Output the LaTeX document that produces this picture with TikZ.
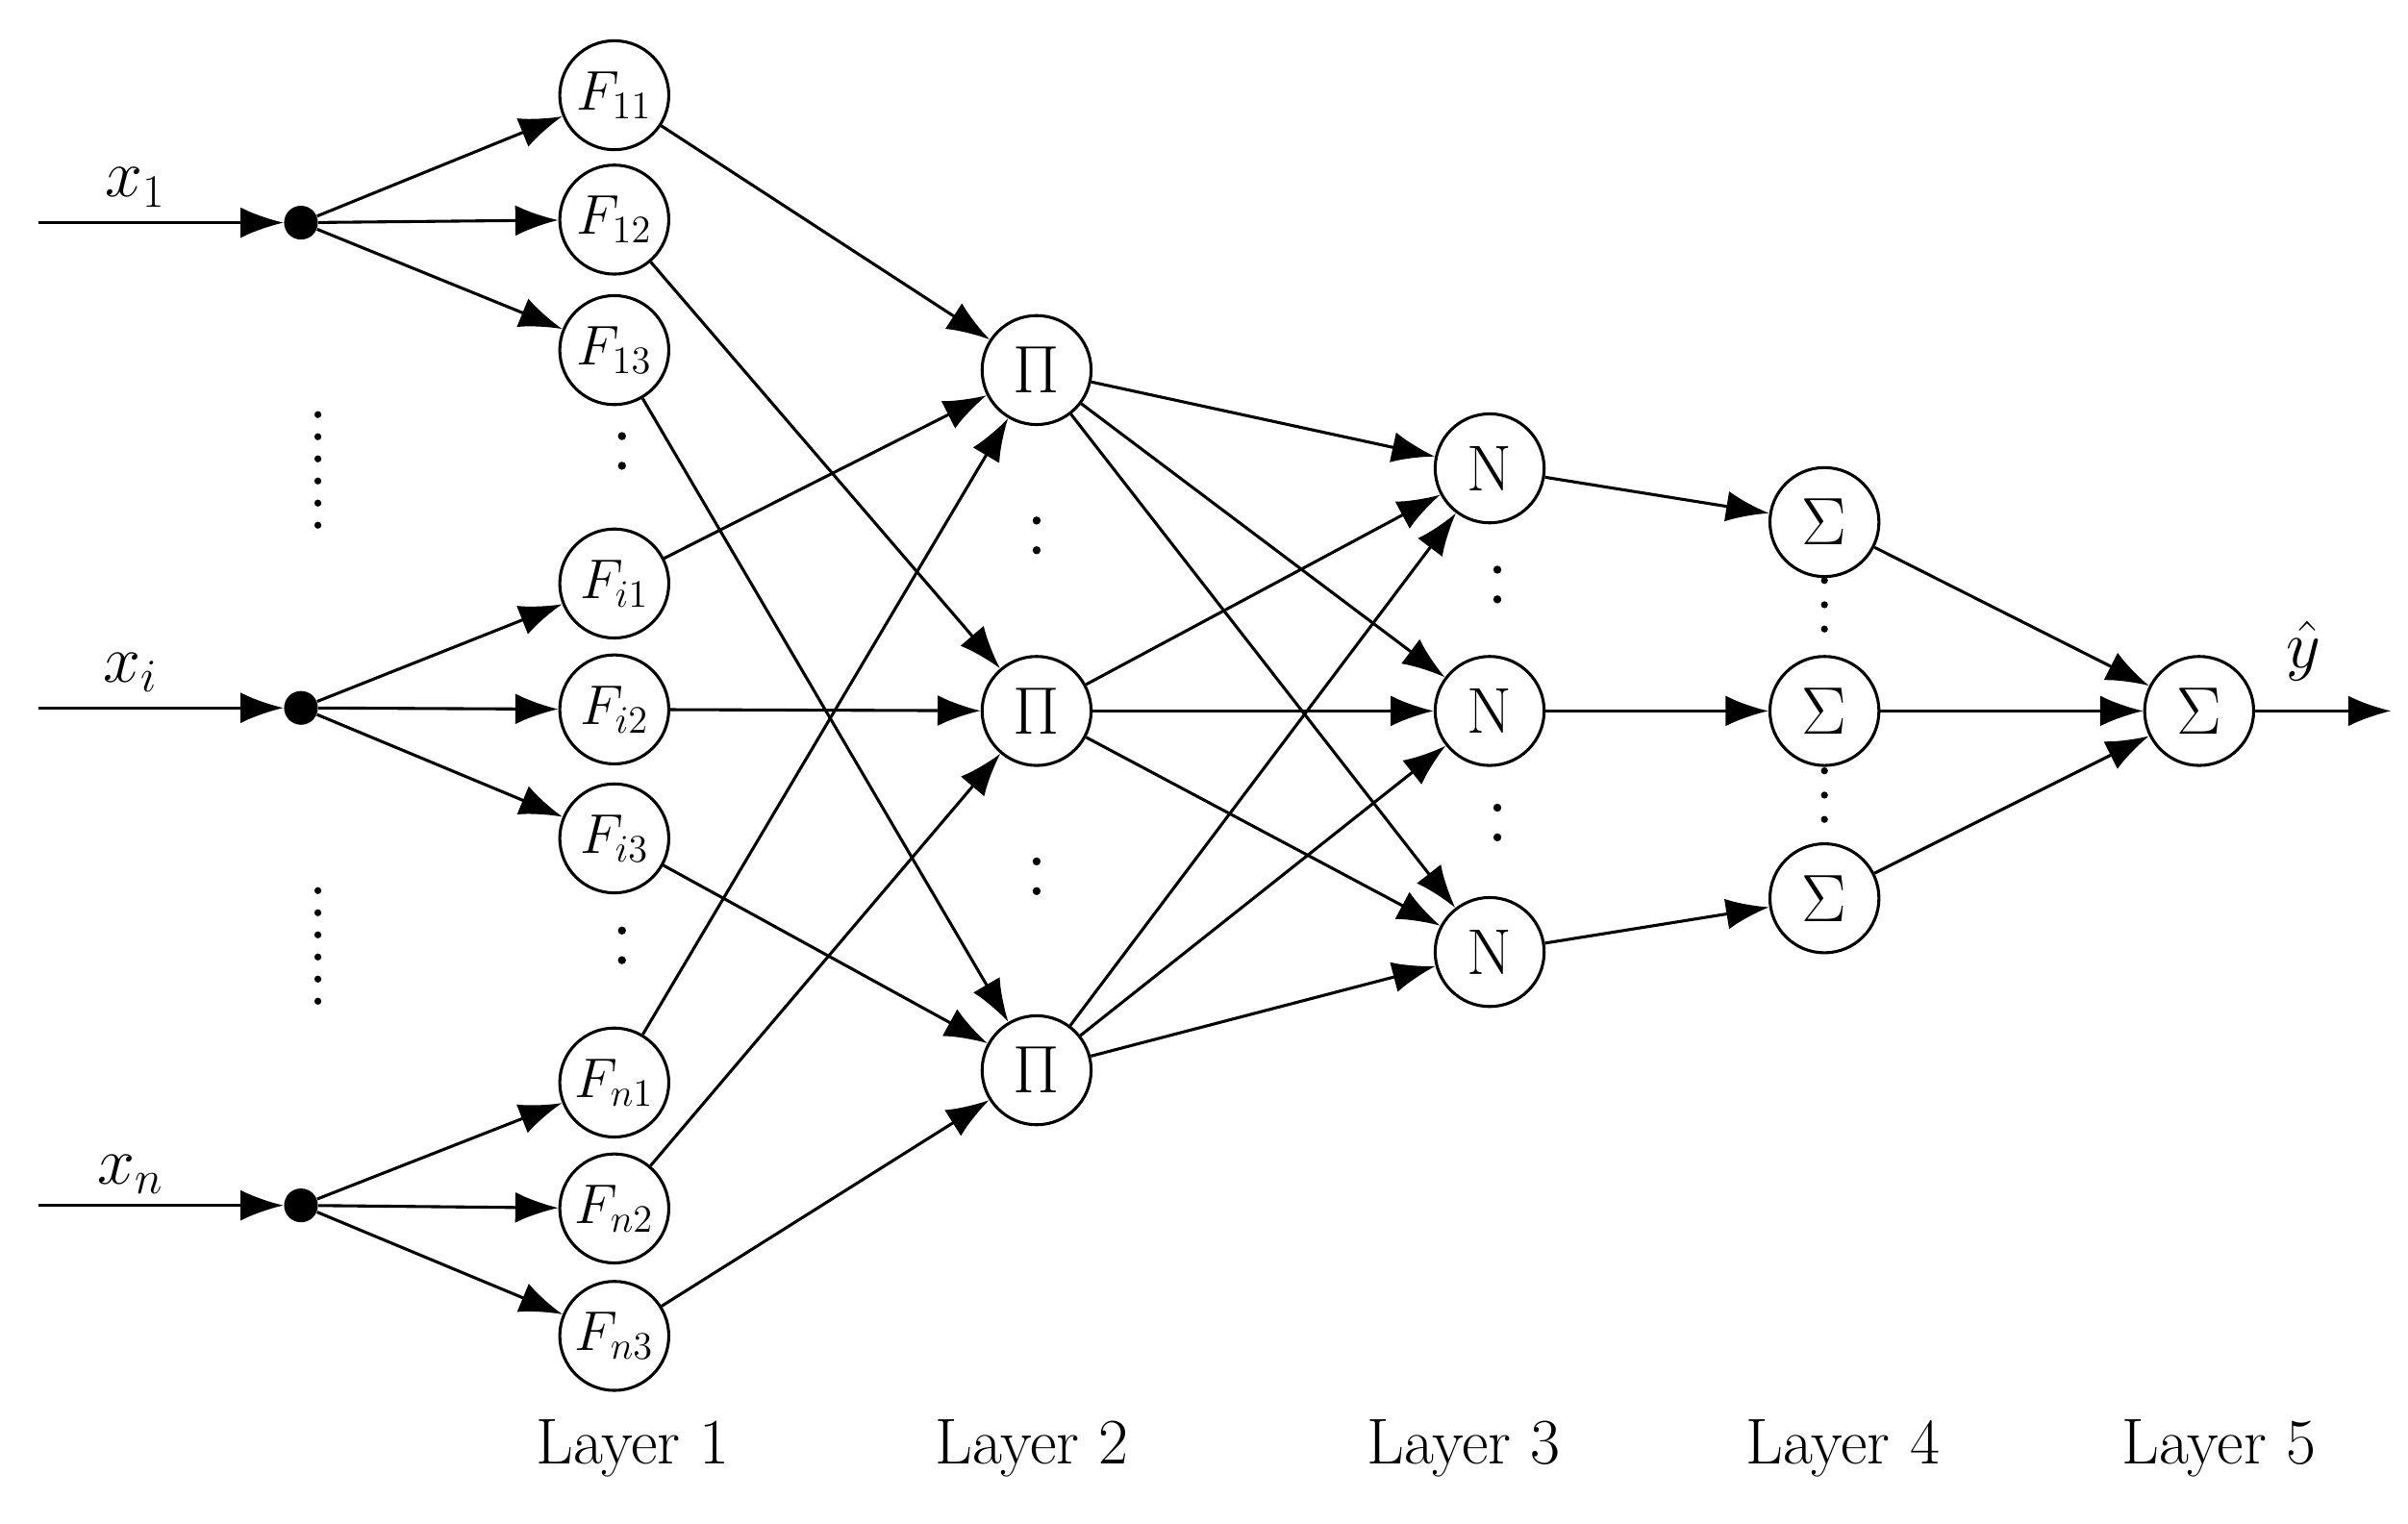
\documentclass[tikz,border=0pt]{standalone}
\usetikzlibrary{arrows.meta}
\begin{document}
\begin{tikzpicture}[x=0.02cm,y=-0.02cm,
  neu/.style={circle,draw,line width=1.1pt,minimum size=1.42cm,inner sep=0pt,font=\fontsize{24}{28}\selectfont},
  fneu/.style={neu,font=\fontsize{21}{24}\selectfont},
  dot/.style={circle,fill,inner sep=0pt,minimum size=0.44cm},
  arr/.style={line width=1.1pt,-{Latex[length=0.56cm,width=0.4cm]}},
  lbl/.style={font=\fontsize{24}{28}\selectfont},
  vdl/.style={line width=2.6pt,line cap=round,dash pattern=on 0pt off 8.2pt},
  vds/.style={line width=3pt,line cap=round,dash pattern=on 0pt off 11pt}]
\useasboundingbox (0,0) rectangle (1568,992);
% inputs
\coordinate (i1) at (25,145); \coordinate (i2) at (25,461); \coordinate (i3) at (25,785);
\node[dot] (d1) at (196,145) {}; \node[dot] (d2) at (196,461) {}; \node[dot] (d3) at (196,785) {};
\node[lbl] (lx1) at (88,122) {$x_1$}; \node[lbl] (lx2) at (85,438) {$x_i$}; \node[lbl] (lx3) at (85,765) {$x_n$};
\foreach \a/\b in {i1/d1,i2/d2,i3/d3} \draw[arr] (\a) -- (\b);
\coordinate (a1) at (207,270); \coordinate (a2) at (207,345);
\coordinate (b1) at (207,580); \coordinate (b2) at (207,655);
\draw[vdl] (a1) -- (a2); \draw[vdl] (b1) -- (b2);
% layer 1
\foreach \n/\y/\t in {F11/62/{F_{11}},F12/143/{F_{12}},F13/228/{F_{13}},Fi1/380/{F_{i1}},Fi2/462/{F_{i2}},Fi3/546/{F_{i3}},Fn1/705/{F_{n1}},Fn2/787/{F_{n2}},Fn3/870/{F_{n3}}}
  \node[fneu] (\n) at (400,\y) {$\t$};
\foreach \x/\y [count=\j] in {405/298,405/620,675/353,675/575,975/385,975/540} {
  \coordinate (u\j) at (\x,\y-14); \coordinate (w\j) at (\x,\y+16);
  \draw[vds] (u\j) -- (w\j);}
\foreach \d/\p in {d1/1,d2/i,d3/n} \foreach \k in {1,2,3} \draw[arr] (\d) -- (F\p\k);
% layer 2
\node[neu] (P1) at (675,241) {$\Pi$}; \node[neu] (P2) at (675,463) {$\Pi$}; \node[neu] (P3) at (675,697) {$\Pi$};
\foreach \p in {1,i,n} {\draw[arr] (F\p1) -- (P1); \draw[arr] (F\p2) -- (P2); \draw[arr] (F\p3) -- (P3);}
% layer 3
\node[neu] (N1) at (970,305) {N}; \node[neu] (N2) at (970,463) {N}; \node[neu] (N3) at (970,620) {N};
\foreach \a in {1,2,3} \foreach \b in {1,2,3} \draw[arr] (P\a) -- (N\b);
% layer 4
\node[neu] (S1) at (1188,340) {$\Sigma$}; \node[neu] (S2) at (1188,463) {$\Sigma$}; \node[neu] (S3) at (1188,585) {$\Sigma$};
\coordinate (c1) at (1188,378); \coordinate (c2) at (1188,424);
\coordinate (e1) at (1188,502); \coordinate (e2) at (1188,546);
\draw[vdl,dash pattern=on 0pt off 9pt] (c1) -- (c2); \draw[vdl,dash pattern=on 0pt off 9pt] (e1) -- (e2);
\foreach \k in {1,2,3} \draw[arr] (N\k) -- (S\k);
% layer 5
\node[neu] (S) at (1432,463) {$\Sigma$};
\foreach \k in {1,2,3} \draw[arr] (S\k) -- (S);
\coordinate (out) at (1557,463);
\draw[arr] (S) -- (out);
\node[lbl] (y) at (1500,424) {$\hat{y}$};
% layer labels
\foreach \x/\k in {412/1,672/2,953/3,1200/4,1445/5} \node[lbl] (L\k) at (\x,943) {Layer \k};
\end{tikzpicture}
\end{document}
